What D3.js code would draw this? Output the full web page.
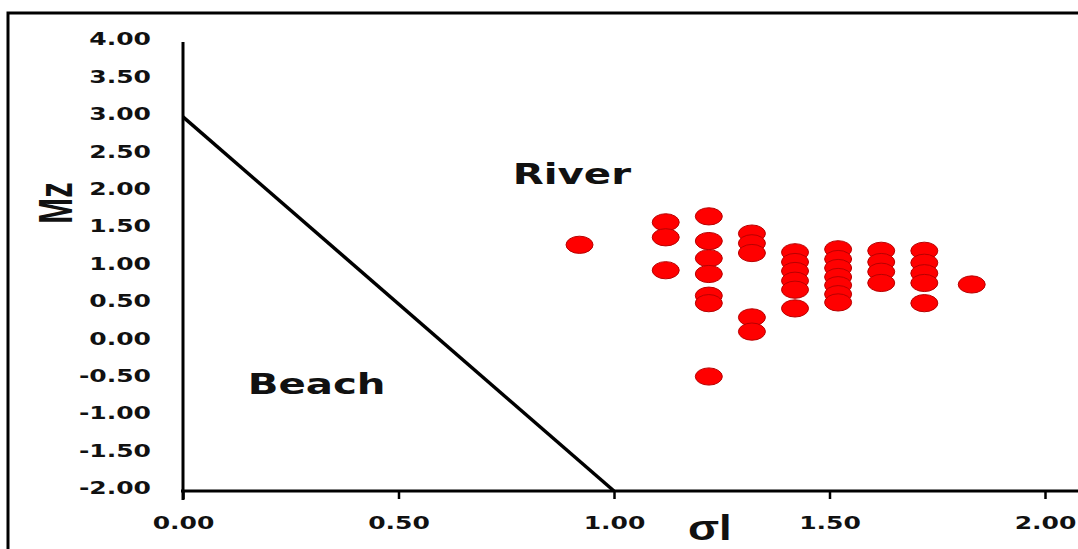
<!DOCTYPE html>
<html>
<head>
<script src="https://cdnjs.cloudflare.com/ajax/libs/d3/7.8.5/d3.min.js"></script>
<style>
  body { margin: 0; background: #fff; }
  .tick text { font-family: "DejaVu Sans", Verdana, sans-serif; font-weight: bold; font-size: 18px; fill: #111; }
</style>
</head>
<body>
<div id="vis"></div>
<script>
// sorting (sigma I) vs mean size (Mz), river/beach discriminant plot
const sortingVals = [0.92, 1.12, 1.12, 1.12,
  1.22, 1.22, 1.22, 1.22, 1.22, 1.22, 1.22,
  1.32, 1.32, 1.32, 1.32, 1.32,
  1.42, 1.42, 1.42, 1.42, 1.42, 1.42,
  1.52, 1.52, 1.52, 1.52, 1.52, 1.52, 1.52,
  1.62, 1.62, 1.62, 1.62,
  1.72, 1.72, 1.72, 1.72, 1.72,
  1.83];
const meanVals = [1.29, 1.59, 1.39, 0.95,
  1.67, 1.34, 1.11, 0.90, 0.61, 0.51, -0.47,
  1.44, 1.31, 1.18, 0.32, 0.13,
  1.19, 1.06, 0.94, 0.81, 0.69, 0.44,
  1.23, 1.10, 0.98, 0.86, 0.75, 0.63, 0.52,
  1.21, 1.06, 0.93, 0.78,
  1.21, 1.05, 0.91, 0.78, 0.51,
  0.76];
const lineX = [0, 1];
const lineY = [3, -2];
const xTicks = [0, 0.5, 1, 1.5, 2];
const yTicks = [4, 3.5, 3, 2.5, 2, 1.5, 1, 0.5, 0, -0.5, -1, -1.5, -2];
const regionLabels = [
  {text: "River", x: 0.765, y: 2.1},
  {text: "Beach", x: 0.150, y: -0.7}
];

const w = 1078, h = 549;
const sx = 1.39;   // the source picture is stretched sideways
const fmt = d => d3.format(".2f")(d).replace("\u2212", "-");
const svg = d3.select("#vis").append("svg").attr("width", w).attr("height", h);

const x = d3.scaleLinear().domain([0, 2]).range([183, 1045]);
const y = d3.scaleLinear().domain([-2, 4]).range([491, 42]);

// frame
svg.append("rect").attr("x", 8).attr("y", 13).attr("width", 1200).attr("height", 700)
  .attr("fill", "none").attr("stroke", "#000").attr("stroke-width", 3);

// y axis
const gy = svg.append("g").attr("transform", `translate(${x(0)},0)`)
  .call(d3.axisLeft(y).tickValues(yTicks).tickFormat(fmt).tickSize(0));
gy.select(".domain").remove();
gy.selectAll(".tick text").attr("x", -32 / sx).attr("y", -3).attr("dy", "0.32em")
  .attr("transform", `scale(${sx},1)`);
svg.append("line").attr("x1", x(0)).attr("x2", x(0)).attr("y1", y(4)).attr("y2", y(-2) + 9)
  .attr("stroke", "#000").attr("stroke-width", 3);

// x axis
const gx = svg.append("g").attr("transform", `translate(0,${y(-2)})`)
  .call(d3.axisBottom(x).tickValues(xTicks).tickFormat(fmt).tickSize(8).tickSizeOuter(0));
gx.select(".domain").remove();
gx.selectAll(".tick line").attr("stroke", "#000").attr("stroke-width", 2.5);
gx.selectAll(".tick text").attr("y", 25).attr("dy", "0.71em").attr("transform", `scale(${sx},1)`);
svg.append("line").attr("x1", x(0) - 2).attr("x2", w).attr("y1", y(-2)).attr("y2", y(-2))
  .attr("stroke", "#000").attr("stroke-width", 3);

// discriminant line
svg.append("path")
  .datum(d3.zip(lineX, lineY))
  .attr("fill", "none").attr("stroke", "#000").attr("stroke-width", 3.5)
  .attr("d", d3.line().x(d => x(d[0])).y(d => y(d[1])));

// samples
svg.append("g").selectAll("ellipse")
  .data(d3.zip(sortingVals, meanVals))
  .join("ellipse")
  .attr("cx", d => x(d[0])).attr("cy", d => y(d[1]))
  .attr("rx", 13.5).attr("ry", 8.6)
  .attr("fill", "#ff0000").attr("stroke", "#b80000").attr("stroke-width", 1);

// region names
svg.append("g").selectAll("text")
  .data(regionLabels)
  .join("text")
  .attr("transform", d => `translate(${x(d.x)},${y(d.y)}) scale(1.44,1)`)
  .attr("font-family", "DejaVu Sans, Verdana, sans-serif").attr("font-weight", "bold")
  .attr("font-size", 28).attr("fill", "#111")
  .text(d => d.text);

// axis titles
svg.append("text")
  .attr("transform", `translate(72,203) scale(1.55,1) rotate(-90)`)
  .attr("text-anchor", "middle")
  .attr("font-family", "Liberation Sans, Arial, sans-serif").attr("font-weight", "bold")
  .attr("font-size", 31).attr("fill", "#111")
  .text("Mz");
svg.append("text")
  .attr("transform", `translate(688,540) scale(1.3,1)`)
  .attr("font-family", "Liberation Sans, Arial, sans-serif").attr("font-weight", "bold")
  .attr("font-size", 35).attr("fill", "#111")
  .text("σl");
</script>
</body>
</html>
